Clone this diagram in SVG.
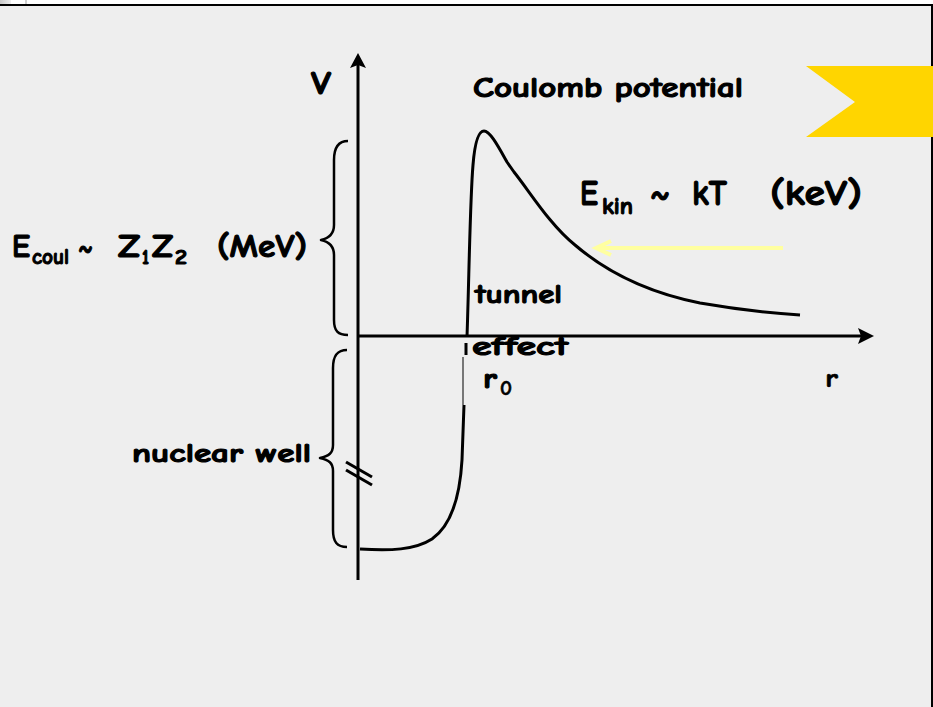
<svg xmlns="http://www.w3.org/2000/svg" width="933" height="707" viewBox="0 0 933 707">
<defs>
<style>
.t{font-family:"Comic Sans MS","Comic Neue","DejaVu Sans",sans-serif;font-weight:bold;fill:#000;stroke:#000;stroke-width:1.1px;stroke-linejoin:round}
.thin{stroke-width:0.6px}
.ln{fill:none;stroke:#000;stroke-linecap:butt;stroke-linejoin:round}
</style>
<linearGradient id="g" x1="0" x2="1" y1="0" y2="0"><stop offset="0" stop-color="#c8c8c8"/><stop offset="1" stop-color="#eeeeee"/></linearGradient>
</defs>
<rect x="0" y="0" width="933" height="707" fill="#ffffff"/>
<rect x="0" y="0" width="11" height="4" fill="url(#g)"/>
<rect x="25" y="0" width="2" height="4" fill="#cfcfcf"/>
<rect x="0" y="5" width="932" height="702" fill="#eeeeee"/>
<line x1="0" y1="5" x2="933" y2="5" stroke="#000" stroke-width="2"/>
<line x1="932" y1="4" x2="932" y2="707" stroke="#000" stroke-width="2"/>
<polygon id="banner" points="806,66 933,66 933,137 806,137 855,102" fill="#ffd500"/>
<g id="connectors">
<line class="ln" x1="358" y1="580" x2="358" y2="62" stroke-width="3"/>
<path d="M358,53 L366,68 L358,65 L350,68 Z" fill="#000"/>
<line class="ln" x1="358" y1="336" x2="866" y2="336" stroke-width="3"/>
<path d="M874,336 L858,344 L861,336 L858,328 Z" fill="#000"/>
<line class="ln" x1="346" y1="462" x2="372" y2="477" stroke-width="3"/>
<line class="ln" x1="346" y1="470" x2="372" y2="485" stroke-width="3"/>
<path class="ln" stroke-width="3" d="M360,549 C390,551 415,550 432,539 C452,525 460,495 462,460 L464,405"/>
<line class="ln" x1="463" y1="405" x2="463" y2="357" stroke-width="1"/>
<line class="ln" x1="466" y1="343" x2="466" y2="355" stroke-width="3"/>
<path class="ln" stroke-width="3" d="M467,337 C469,280 470,200 473,165 C475,140 479,131 484,131 C490,131 498,146 507,162 L514,172 C530,192 550,225 575,245 C610,275 650,293 700,303 C740,310 770,313 800,315"/>
<g fill="none" stroke="#ffffa0" stroke-width="4">
<line x1="783" y1="248" x2="597" y2="248"/>
<polyline points="611,241 596,248 611,255"/>
</g>
<path class="ln" stroke-width="2.5" d="M348,141 C338,141 334,148 334,160 L334,225 C334,233 330,238 321,240 C330,242 334,247 334,255 L334,320 C334,331 338,335 348,335"/>
<path class="ln" stroke-width="2.5" d="M347,350 C337,350 333,356 333,368 L333,445 C333,453 329,456 320,458 C329,460 333,463 333,471 L333,530 C333,542 337,547 347,547"/>
</g>
<g id="label-V"><text class="t" x="311" y="94" font-size="32" textLength="20" lengthAdjust="spacingAndGlyphs">V</text></g>
<g id="label-coulomb"><text class="t" x="473" y="97" font-size="28" textLength="270" lengthAdjust="spacingAndGlyphs">Coulomb potential</text></g>
<g id="label-ekin">
<text class="t" x="580" y="205" font-size="36" textLength="18" lengthAdjust="spacingAndGlyphs">E</text>
<text class="t" x="602" y="214" font-size="24" textLength="31" lengthAdjust="spacingAndGlyphs">kin</text>
<text class="t" x="650" y="205" font-size="36" textLength="20" lengthAdjust="spacingAndGlyphs">~</text>
<text class="t" x="692" y="205" font-size="36" textLength="35" lengthAdjust="spacingAndGlyphs">kT</text>
<text class="t" x="770" y="205" font-size="36" textLength="92" lengthAdjust="spacingAndGlyphs">(keV)</text>
</g>
<g id="label-ecoul">
<text class="t" x="12" y="257" font-size="32" textLength="18" lengthAdjust="spacingAndGlyphs">E</text>
<text class="t" x="32" y="264" font-size="22" textLength="37" lengthAdjust="spacingAndGlyphs">coul</text>
<text class="t" x="78" y="257" font-size="32" textLength="15" lengthAdjust="spacingAndGlyphs">~</text>
<text class="t" x="118" y="257" font-size="32" textLength="22" lengthAdjust="spacingAndGlyphs">Z</text>
<text class="t" x="142" y="264" font-size="20" textLength="7" lengthAdjust="spacingAndGlyphs">1</text>
<text class="t" x="152" y="257" font-size="32" textLength="21" lengthAdjust="spacingAndGlyphs">Z</text>
<text class="t" x="175" y="264" font-size="20" textLength="12" lengthAdjust="spacingAndGlyphs">2</text>
<text class="t" x="217" y="257" font-size="32" textLength="90" lengthAdjust="spacingAndGlyphs">(MeV)</text>
</g>
<g id="label-nuclear"><text class="t" x="132" y="462" font-size="26" textLength="179" lengthAdjust="spacingAndGlyphs">nuclear well</text></g>
<g id="label-tunnel">
<text class="t" x="475" y="303" font-size="27" textLength="87" lengthAdjust="spacingAndGlyphs">tunnel</text>
<text class="t" x="472" y="355" font-size="27" textLength="96" lengthAdjust="spacingAndGlyphs">effect</text>
</g>
<g id="label-r0">
<text class="t" x="483" y="388" font-size="28" textLength="14" lengthAdjust="spacingAndGlyphs">r</text>
<text class="t thin" x="500" y="395" font-size="20" textLength="12" lengthAdjust="spacingAndGlyphs" font-weight="normal">0</text>
</g>
<g id="label-r"><text class="t thin" x="825" y="387" font-size="27" textLength="13" lengthAdjust="spacingAndGlyphs" font-weight="normal">r</text></g>
</svg>
